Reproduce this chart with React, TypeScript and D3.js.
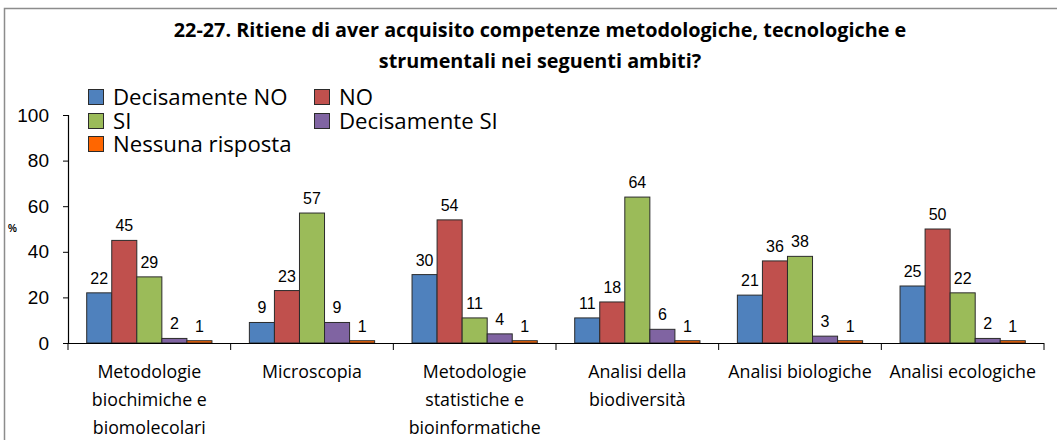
import React, { useEffect, useRef } from 'react';
import * as d3 from 'd3';

// Chart data
const categories = [
  ['Metodologie', 'biochimiche e', 'biomolecolari'],
  ['Microscopia'],
  ['Metodologie', 'statistiche e', 'bioinformatiche'],
  ['Analisi della', 'biodiversità'],
  ['Analisi biologiche'],
  ['Analisi ecologiche'],
];
const seriesNames = ['Decisamente NO', 'NO', 'SI', 'Decisamente SI', 'Nessuna risposta'];
const seriesColors = ['#4F81BD', '#C0504D', '#9BBB59', '#8064A2', '#FF6600'];
const decisamenteNo = [22, 9, 30, 11, 21, 25];
const no = [45, 23, 54, 18, 36, 50];
const si = [29, 57, 11, 64, 38, 22];
const decisamenteSi = [2, 9, 4, 6, 3, 2];
const nessunaRisposta = [1, 1, 1, 1, 1, 1];
const yTicks = [0, 20, 40, 60, 80, 100];

const titleLines = [
  '22-27. Ritiene di aver acquisito competenze metodologiche, tecnologiche e',
  'strumentali nei seguenti ambiti?',
];

const W = 1057;
const H = 440;

const App: React.FC = () => {
  const svgRef = useRef<SVGSVGElement>(null);

  useEffect(() => {
    if (!svgRef.current) return;
    const svg = d3.select(svgRef.current);
    svg.selectAll('*').remove();

    const series = [decisamenteNo, no, si, decisamenteSi, nessunaRisposta];
    const left = 68, right = 1044, top = 115, bottom = 343;

    // outer frame
    svg.append('rect')
      .attr('x', 4.5).attr('y', 8.5)
      .attr('width', W + 10).attr('height', H + 10)
      .attr('fill', 'white').attr('stroke', '#8c8c8c').attr('stroke-width', 1.5);

    // title
    svg.append('g').selectAll('text')
      .data(titleLines)
      .join('text')
      .attr('x', 540).attr('y', (_, i) => 37 + i * 31)
      .attr('text-anchor', 'middle')
      .style('font', 'bold 19.8px "Open Sans", sans-serif')
      .attr('fill', '#000')
      .text(d => d);

    const x0 = d3.scaleBand<number>()
      .domain(d3.range(categories.length))
      .range([left, right])
      .paddingInner(0.23)
      .paddingOuter(0.115);
    const x1 = d3.scaleBand<number>()
      .domain(d3.range(seriesNames.length))
      .range([0, x0.bandwidth()]);
    const y = d3.scaleLinear().domain([0, 100]).range([bottom, top]);

    // y axis
    const yAxis = svg.append('g')
      .attr('transform', `translate(${left},0)`)
      .call(d3.axisLeft(y).tickValues(yTicks).tickSize(5).tickPadding(14));
    yAxis.select('.domain').attr('stroke', '#000').attr('stroke-width', 1.2);
    yAxis.selectAll('line').attr('stroke', '#000');
    yAxis.selectAll('text')
      .style('font', '19px "Liberation Sans", Arial, sans-serif')
      .attr('fill', '#000');

    svg.append('text')
      .attr('x', 8).attr('y', 232)
      .style('font', 'bold 10px "Liberation Sans", Arial, sans-serif')
      .text('%');

    // bars
    const groups = svg.append('g').selectAll('g')
      .data(categories.map((_, i) => i))
      .join('g')
      .attr('transform', d => `translate(${x0(d)},0)`);

    groups.selectAll('rect')
      .data(ci => series.map((s, si2) => ({ si: si2, v: s[ci] })))
      .join('rect')
      .attr('x', d => x1(d.si)!)
      .attr('y', d => y(d.v))
      .attr('width', x1.bandwidth())
      .attr('height', d => bottom - y(d.v))
      .attr('fill', d => seriesColors[d.si])
      .attr('stroke', '#2b2b2b')
      .attr('stroke-width', 1);

    groups.selectAll('text')
      .data(ci => series.map((s, si2) => ({ si: si2, v: s[ci] })))
      .join('text')
      .attr('x', d => x1(d.si)! + x1.bandwidth() / 2)
      .attr('y', d => y(d.v) - 9)
      .attr('text-anchor', 'middle')
      .style('font', '16px "Liberation Sans", Arial, sans-serif')
      .attr('fill', '#000')
      .text(d => d.v);

    // x axis
    const boundaries = d3.range(categories.length + 1).map(i => left + i * (right - left) / categories.length);
    svg.append('line')
      .attr('x1', left).attr('x2', right)
      .attr('y1', bottom + 0.5).attr('y2', bottom + 0.5)
      .attr('stroke', '#000').attr('stroke-width', 1.2);
    svg.append('g').selectAll('line')
      .data(boundaries)
      .join('line')
      .attr('x1', d => d).attr('x2', d => d)
      .attr('y1', bottom).attr('y2', bottom + 7)
      .attr('stroke', '#000');

    const catLabels = svg.append('g').selectAll('text')
      .data(categories)
      .join('text')
      .attr('x', (_, i) => x0(i)! + x0.bandwidth() / 2)
      .attr('text-anchor', 'middle')
      .style('font', '17.8px "Open Sans", sans-serif')
      .attr('fill', '#000');
    catLabels.selectAll('tspan')
      .data((d, i) => d.map(line => ({ line, i })))
      .join('tspan')
      .attr('x', d => x0(d.i)! + x0.bandwidth() / 2)
      .attr('y', (_, j) => 378 + j * 28)
      .text(d => d.line);

    // legend
    const legendPos = [
      [88, 97], [314, 97], [88, 121], [314, 121], [88, 144],
    ];
    const legend = svg.append('g').selectAll('g')
      .data(seriesNames)
      .join('g')
      .attr('transform', (_, i) => `translate(${legendPos[i][0]},${legendPos[i][1]})`);
    legend.append('rect')
      .attr('x', 0.5).attr('y', -7.5)
      .attr('width', 15).attr('height', 15)
      .attr('fill', (_, i) => seriesColors[i])
      .attr('stroke', '#2b2b2b');
    legend.append('text')
      .attr('x', 25).attr('y', 7.5)
      .style('font', '22.2px "Open Sans", sans-serif')
      .attr('fill', '#000')
      .text(d => d);
  }, []);

  return (
    <div style={{ position: 'absolute', left: 0, top: 0 }}>
      <svg ref={svgRef} width={W} height={H} style={{ display: 'block', background: 'white' }} />
    </div>
  );
};

export default App;
